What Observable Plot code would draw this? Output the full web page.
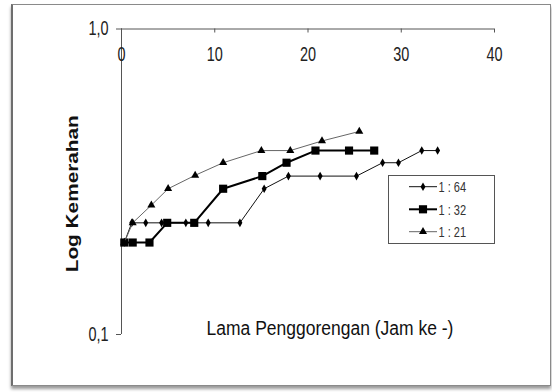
<!DOCTYPE html>
<html><head><meta charset="utf-8">
<script src="https://cdn.jsdelivr.net/npm/d3@7"></script>
<script src="https://cdn.jsdelivr.net/npm/@observablehq/plot@0.6"></script>
<style>
body{margin:0;background:#fff;}
#wrap{position:relative;width:552px;height:392px;overflow:hidden;}
#wrap svg{position:absolute;left:0;top:0;}
#frame{position:absolute;left:11px;top:4px;width:537px;height:380px;border:1px solid #8a8a8a;border-left:2px solid #6e6e6e;box-shadow:0 3px 3px #9a9a9a;pointer-events:none}
</style></head><body><div id="wrap"><div id="frame"></div></div>
<script>
const seriesNames = ["1 : 64", "1 : 32", "1 : 21"];
const x64 = [0.3, 1.1, 2.6, 4.3, 6.9, 9.3, 12.7, 15.3, 17.9, 21.3, 25.2, 28.0, 29.7, 32.2, 33.9];
const y64 = [0.2, 0.232, 0.232, 0.232, 0.232, 0.232, 0.232, 0.3, 0.33, 0.33, 0.33, 0.365, 0.365, 0.4, 0.4];
const x32 = [0.3, 1.2, 3.0, 4.9, 7.8, 10.9, 15.1, 17.7, 20.8, 24.4, 27.1];
const y32 = [0.2, 0.2, 0.2, 0.232, 0.232, 0.3, 0.33, 0.365, 0.4, 0.4, 0.4];
const x21 = [0.3, 1.2, 3.2, 5.0, 7.9, 10.9, 15.0, 18.1, 21.5, 25.5];
const y21 = [0.2, 0.232, 0.265, 0.3, 0.332, 0.365, 0.4, 0.4, 0.43, 0.462];
const xTicks = [0, 10, 20, 30, 40];
const yTicks = [0.1, 1.0];
const xLabel = "Lama Penggorengan (Jam ke -)";
const yLabel = "Log Kemerahan";

const styles = {
  "1 : 64": {stroke: "#111", sw: 1, symbol: "diamond", r: 2.6},
  "1 : 32": {stroke: "#000", sw: 2, symbol: "square", r: 4.6},
  "1 : 21": {stroke: "#666", sw: 1, symbol: "triangle", r: 3}
};
const xsArr = [x64, x32, x21], ysArr = [y64, y32, y21];
const data = [];
seriesNames.forEach((s, k) => xsArr[k].forEach((x, i) => data.push({series: s, x, y: ysArr[k][i]})));

const sans = "'Liberation Sans',Arial,sans-serif";
const marks = [
  Plot.ruleY([1], {x1: 0, x2: 40, stroke: "#555"}),
  Plot.ruleX([0], {y1: 0.1, y2: 1, stroke: "#555"}),
  Plot.ruleX(xTicks, {x: d => d, y1: 1, y2: 1, insetBottom: -4, stroke: "#555"}),
  Plot.ruleY(yTicks, {y: d => d, x1: 0, x2: 0, insetLeft: -5, stroke: "#555"}),
  Plot.text(xTicks, {x: d => d, y: 1, dy: 26, text: d => String(d), fontSize: 17, fill: "#222", fontFamily: sans, className: "narrow"}),
  Plot.text(yTicks, {x: 0, y: d => d, dx: -13, textAnchor: "end", text: d => d.toFixed(1).replace(".", ","), fontSize: 17, fill: "#222", fontFamily: sans, className: "narrowEnd"}),
  Plot.text([yLabel], {frameAnchor: "left", textAnchor: "middle", lineAnchor: "middle", dx: -49, dy: 12, rotate: -90, text: d => d, fontSize: 16, fontWeight: "bold", fill: "#111", fontFamily: sans}),
  Plot.text([xLabel], {frameAnchor: "bottom", textAnchor: "middle", lineAnchor: "middle", dx: 22, dy: -6, text: d => d, fontSize: 17.5, fill: "#111", fontFamily: sans})
];
seriesNames.forEach(s => {
  const st = styles[s];
  const d = data.filter(p => p.series === s);
  marks.push(Plot.line(d, {x: "x", y: "y", stroke: st.stroke, strokeWidth: st.sw}));
  marks.push(Plot.dot(d, {x: "x", y: "y", symbol: () => st.symbol, r: st.r, fill: "#000", stroke: "none"}));
});

const chart = Plot.plot({
  width: 552, height: 392,
  marginLeft: 121, marginRight: 58, marginTop: 28.5, marginBottom: 58,
  style: {background: "transparent", overflow: "visible"},
  x: {domain: [0, 40], axis: null},
  y: {type: "log", domain: [0.1, 1], axis: null},
  marks
});
document.getElementById("wrap").prepend(chart);

const svg = d3.select(chart);
// legend
const lg = svg.append("g");
lg.append("rect").attr("x", 388.5).attr("y", 175.5).attr("width", 106).attr("height", 68)
  .attr("fill", "#fff").attr("stroke", "#555");
const rowsY = [186.7, 209.3, 231.7];
const symMap = {diamond: d3.symbolDiamond, square: d3.symbolSquare, triangle: d3.symbolTriangle};
seriesNames.forEach((s, i) => {
  const st = styles[s], y = rowsY[i];
  lg.append("line").attr("x1", 409).attr("x2", 437).attr("y1", y).attr("y2", y)
    .attr("stroke", st.stroke).attr("stroke-width", st.sw);
  lg.append("path").attr("transform", `translate(423,${y})`)
    .attr("d", d3.symbol(symMap[st.symbol], Math.PI * st.r * st.r)()).attr("fill", "#000");
  lg.append("text").attr("class", "legendText").attr("transform", `translate(438.5,${y})`).attr("dy", "0.35em")
    .attr("text-anchor", "start").attr("font-size", 13).attr("fill", "#333").attr("font-family", sans).text(s);
});
// narrow, vertically stretched text like the original image
svg.selectAll("text").each(function () {
  const t = this.getAttribute("transform") || "";
  const narrowText = this.closest(".narrow, .narrowEnd") || this.classList.contains("legendText");
  if (/rotate/.test(t)) this.setAttribute("transform", t + " scale(1.3,1)");
  else if (narrowText) this.setAttribute("transform", t + " scale(0.85,1.15)");
  else this.setAttribute("transform", t + " scale(1,1.2)");
});
</script></body></html>
